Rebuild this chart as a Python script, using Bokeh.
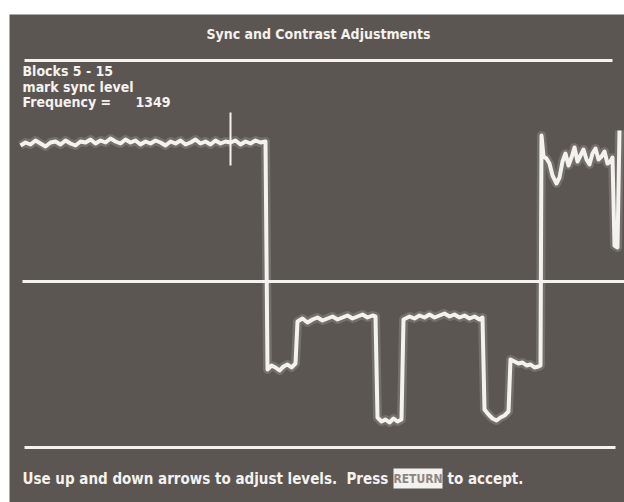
from bokeh.plotting import figure
from bokeh.models import Range1d
from bokeh.core.properties import value
from bokeh.embed import file_html
from bokeh.resources import INLINE

# ---- data (x: screen position, y: signal level, 0 = reference line) ----
wave_x = [20, 25, 30, 35, 40, 45, 50, 55, 60, 65, 70, 75, 80, 85, 90, 95, 100, 105, 110, 115,
          120, 125, 130, 135, 140, 145, 150, 155, 160, 165, 170, 175, 180, 185, 190, 195, 200,
          205, 210, 215, 220, 225, 230, 235, 240, 245, 250, 255, 260, 265,
          267, 271, 275, 279, 283, 287, 291, 295,
          297, 302, 307, 312, 317, 322, 327, 332, 337, 342, 347, 352, 357, 362, 367, 372, 375,
          377, 381, 385, 389, 393, 397, 401,
          403, 409, 414, 419, 424, 429, 434, 439, 444, 449, 454, 459, 464, 469, 474, 479, 482,
          484, 488, 492, 496, 500, 504, 508,
          510, 514, 518, 522, 526, 530, 534, 538, 540,
          541, 543, 546, 549, 552, 556, 559, 562, 565, 568, 571, 574, 577, 580, 583, 586, 589,
          592, 595, 598, 601, 604, 607, 610, 612, 614, 617, 619]
wave_y = [136, 139, 137, 141, 138, 135, 139, 140, 137, 141, 138, 136, 140, 139, 142, 138, 141,
          139, 143, 140, 138, 142, 139, 141, 137, 140, 138, 141, 139, 136, 140, 138, 141, 137,
          139, 142, 138, 140, 137, 141, 138, 140, 139, 141, 137, 140, 138, 141, 139, 140,
          -88, -84, -86, -89, -85, -83, -86, -82,
          -40, -37, -41, -38, -36, -39, -37, -35, -38, -36, -34, -37, -35, -33, -36, -34, -35,
          -136, -140, -138, -141, -137, -140, -138,
          -38, -35, -37, -34, -36, -33, -36, -34, -32, -35, -33, -36, -34, -37, -35, -38, -36,
          -128, -133, -137, -139, -136, -134, -130,
          -78, -80, -82, -81, -84, -83, -86, -85, -84,
          146, 125, 123, 118, 106, 98, 104, 120, 128, 116, 124, 134, 120, 126, 132, 122, 117,
          128, 133, 122, 125, 130, 118, 120, 124, 36, 34, 151]

marker_x = [230, 230]
marker_y = [169, 116]

rule_levels = [221, 0, -166]
rule_starts = [24, 22, 24]
rule_ends = [612, 624, 615]

title = "Sync and Contrast Adjustments"
info_lines = ["Blocks 5 - 15", "mark sync level", "Frequency ="]
frequency = "1349"
help_parts = ["Use up and down arrows to adjust levels.\u00a0 Press", "RETURN", "to accept."]

BG = "#5c5652"
FG = "#f4f2ee"
FONT = value("DejaVu Sans Condensed")

p = figure(width=624, height=502, output_backend="svg", toolbar_location=None,
           x_range=Range1d(9, 624), y_range=Range1d(-221, 267),
           min_border_left=9, min_border_right=0, min_border_top=14, min_border_bottom=0)
p.axis.visible = False
p.grid.visible = False
p.outline_line_color = None
p.background_fill_color = BG
p.border_fill_color = "white"

# rules
for lvl, x0, x1 in zip(rule_levels, rule_starts, rule_ends):
    p.line([x0, x1], [lvl, lvl], line_color=FG, line_width=3)

# trace with glow
p.line(wave_x, wave_y, line_color="white", line_width=9, line_alpha=0.15, line_join="round")
p.line(wave_x, wave_y, line_color=FG, line_width=4, line_join="round")
p.line(marker_x, marker_y, line_color=FG, line_width=2)

# texts
p.text(x=[318], y=[248], text=[title], text_color=FG, text_font=FONT,
       text_font_size="14px", text_font_style="bold", text_align="center", text_baseline="middle")
p.text(x=[22, 22, 22], y=[211, 195, 180], text=info_lines, text_color=FG, text_font=FONT,
       text_font_size="14px", text_font_style="bold", text_align="left", text_baseline="middle")
p.text(x=[135], y=[180], text=[frequency], text_color=FG, text_font=FONT,
       text_font_size="14px", text_font_style="bold", text_align="left", text_baseline="middle")

p.quad(left=[393], right=[442], bottom=[-207], top=[-187], fill_color=FG, line_color=None)
p.text(x=[417.5], y=[-197], text=[help_parts[1]], text_color="#8c8682", text_font=FONT,
       text_font_size="12px", text_font_style="bold", text_align="center", text_baseline="middle")
p.text(x=[22], y=[-197], text=[help_parts[0]], text_color=FG, text_font=FONT,
       text_font_size="15px", text_font_style="bold", text_align="left", text_baseline="middle")
p.text(x=[447], y=[-197], text=[help_parts[2]], text_color=FG, text_font=FONT,
       text_font_size="15px", text_font_style="bold", text_align="left", text_baseline="middle")

open("out.html", "w").write(file_html(p, INLINE))
